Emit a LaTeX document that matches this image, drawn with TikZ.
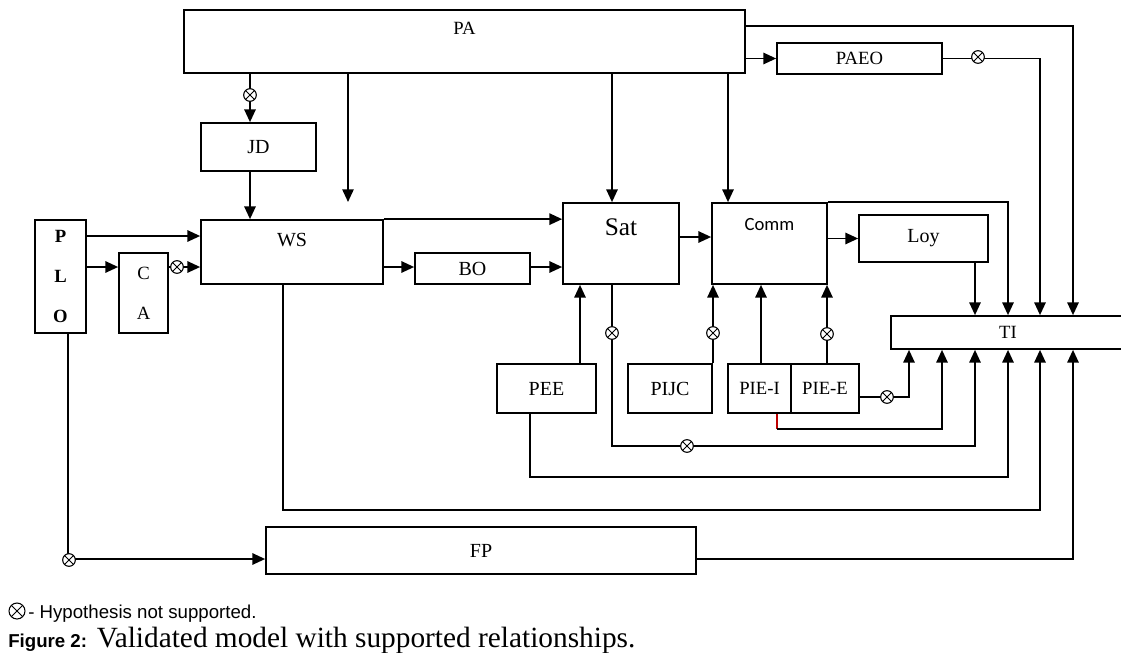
\documentclass[tikz,border=0pt]{standalone}
\usepackage{fontspec}
\setmainfont{Liberation Serif}
\setsansfont{Liberation Sans}
\newfontfamily\calibri{Carlito}
\usetikzlibrary{arrows.meta,calc}

\begin{document}
\begin{tikzpicture}[x=0.75pt, y=-0.75pt,
  box/.style={draw, rectangle, line width=1.3pt, inner sep=0pt, font=\fontsize{15}{17}\selectfont},
  lbl/.style={anchor=center, font=\fontsize{15}{17}\selectfont},
  arr/.style={-{Triangle[length=9.5pt,width=8.5pt]}, line width=1.2pt},
  wire/.style={line width=1.2pt},
  nsup/.style={circle, draw, fill=white, inner sep=0pt, minimum size=9.5pt, line width=0.8pt,
    path picture={\draw[line width=0.7pt] (path picture bounding box.north west) -- (path picture bounding box.south east)
      (path picture bounding box.north east) -- (path picture bounding box.south west);}}]
\useasboundingbox (0,0) rectangle (1121,653);

% boxes
\node[box, minimum width=420.75pt, minimum height=47.25pt, label={[lbl, yshift=-14.25pt, font=\fontsize{14}{16}\selectfont]north:PA}] (pa) at (464.5,41.5) {};
\node[box, minimum width=123.75pt, minimum height=23.25pt, font=\fontsize{14}{16}\selectfont] (paeo) at (859.5,58.5) {PAEO};
\node[box, minimum width=86.25pt, minimum height=36pt] (jd) at (258.5,147) {JD};
\node[box, minimum width=136.5pt, minimum height=48pt, label={[lbl, yshift=-15.75pt]north:WS}] (ws) at (292,252) {};
\node[box, minimum width=38.25pt, minimum height=84.75pt, align=center, font=\bfseries\fontsize{14}{30}\selectfont] (plo) at (60.5,276.5) {P\\L\\O};
\node[box, minimum width=36.75pt, minimum height=60pt, align=center, font=\fontsize{14}{30}\selectfont] (ca) at (143.5,293) {C\\A};
\node[box, minimum width=86.25pt, minimum height=23.25pt] (bo) at (472.5,268.5) {BO};
\node[box, minimum width=87pt, minimum height=60.75pt, label={[lbl, yshift=-18.75pt, font=\fontsize{19}{21}\selectfont]north:Sat}] (sat) at (621,243.5) {};
\node[box, minimum width=86.25pt, minimum height=60.75pt, label={[lbl, yshift=-16.5pt, font=\calibri\fontsize{14}{16}\selectfont]north:Comm}] (comm) at (769.5,243.5) {};
\node[box, minimum width=96.75pt, minimum height=35.25pt] (loy) at (923.5,238.5) {Loy};
\node[box, minimum width=175.5pt, minimum height=24.75pt, font=\fontsize{14}{16}\selectfont] (ti) at (1008,332.5) {TI};
\node[box, minimum width=74.25pt, minimum height=36.75pt] (pee) at (546.5,388.5) {PEE};
\node[box, minimum width=63pt, minimum height=36.75pt] (pijc) at (670,388.5) {PIJC};
\node[box, minimum width=47.25pt, minimum height=36.75pt, font=\fontsize{14}{16}\selectfont] (piei) at (759.5,388.5) {PIE-I};
\node[box, minimum width=51pt, minimum height=36.75pt, font=\fontsize{14}{16}\selectfont] (piee) at (825,388.5) {PIE-E};
\node[box, minimum width=322.5pt, minimum height=35.25pt] (fp) at (481,550.5) {FP};

% lanes
\coordinate (xjd) at (250,0);
\coordinate (xsat) at (612,0);
\coordinate (xcomm) at (728,0);
\coordinate (xpee) at (580,0);
\coordinate (xpee2) at (530,0);
\coordinate (xwsb) at (283,0);
\coordinate (xplo) at (68,0);
\coordinate (xred) at (777,0);
\coordinate (xpijc) at (713,0);
\coordinate (xpiei) at (761,0);
\coordinate (xpiee) at (827,0);
\foreach \n/\x in {1/909,2/942,3/975,4/1008,5/1040,6/1073}
  \coordinate (ti\n) at (\x,0);
\coordinate (ytop) at (0,26);
\coordinate (yp) at (0,236);
\coordinate (ymid) at (0,267);
\coordinate (ysc) at (0,237);
\coordinate (ye) at (0,397);
\coordinate (yi) at (0,429);
\coordinate (ys) at (0,446);
\coordinate (yp2) at (0,477);
\coordinate (yw) at (0,510);
\coordinate (yf) at (0,559);
\coordinate (wsin) at (348,202);

% from PA
\draw[arr] (pa.south -| xjd) -- (jd.north -| xjd);
\draw[arr] (jd.south -| xjd) -- (ws.north -| xjd);
\draw[arr] (pa.south -| wsin) -- (wsin);
\draw[arr] (pa.south -| xsat) -- (sat.north -| xsat);
\draw[arr] (pa.south -| xcomm) -- (comm.north -| xcomm);
\draw[arr] (pa.east |- paeo.west) -- (paeo.west);
\draw[arr] (pa.east |- ytop) -| (ti.north -| ti6);
\draw[arr] (paeo.east) -| (ti.north -| ti5);

% middle row
\draw[arr] (plo.east |- yp) -- (ws.west |- yp);
\draw[arr] (plo.east |- ymid) -- (ca.west |- ymid);
\draw[arr] (ca.east |- ymid) -- (ws.west |- ymid);
\draw[arr] (ws.east |- ymid) -- (bo.west |- ymid);
\draw[arr] (bo.east |- ymid) -- (sat.west |- ymid);
\draw[arr] (ws.north east) -- (sat.west |- ws.north east);
\draw[arr] (sat.east |- ysc) -- (comm.west |- ysc);
\draw[arr] (comm.east |- loy.west) -- (loy.west);
\draw[arr] (comm.north east) -| (ti.north -| ti4);
\draw[arr] (loy.south -| ti3) -- (ti.north -| ti3);

% bottom row
\draw[arr] (pee.north -| xpee) -- (sat.south -| xpee);
\draw[arr] (pijc.north -| xpijc) -- (comm.south -| xpijc);
\draw[arr] (piei.north -| xpiei) -- (comm.south -| xpiei);
\draw[arr] (piee.north -| xpiee) -- (comm.south -| xpiee);

% into TI from below
\draw[arr] (piee.east |- ye) -| (ti.south -| ti1);
\draw[wire, red!75!black] (piei.south -| xred) -- (xred |- yi);
\draw[arr] (xred |- yi) -| (ti.south -| ti2);
\draw[arr] (sat.south -| xsat) -- (xsat |- ys) -| (ti.south -| ti3);
\draw[arr] (pee.south -| xpee2) -- (xpee2 |- yp2) -| (ti.south -| ti4);
\draw[arr] (ws.south -| xwsb) -- (xwsb |- yw) -| (ti.south -| ti5);
\draw[arr] (fp.east |- yf) -| (ti.south -| ti6);
\draw[arr] (plo.south -| xplo) |- (fp.west |- yf);

% not supported
\node[nsup] (h1) at (250,95) {};
\node[nsup] (h2) at (978,57) {};
\node[nsup] (h3) at (177,267) {};
\node[nsup] (h4) at (612,333) {};
\node[nsup] (h5) at (713,333) {};
\node[nsup] (h6) at (827,334) {};
\node[nsup] (h7) at (887,397) {};
\node[nsup] (h8) at (687,446) {};
\node[nsup] (h9) at (69,560) {};

% key and caption
\node[nsup, minimum size=12pt] (key) at (17,611) {};
\node[anchor=base west, inner sep=0pt, font=\sffamily\fontsize{14}{16}\selectfont] (keytext) at (28,618) {- Hypothesis not supported.};
\node[anchor=base west, inner sep=0pt, font=\fontsize{22}{24}\selectfont] (caption) at (8,647) {{\sffamily\bfseries\fontsize{14}{16}\selectfont Figure 2:} Validated model with supported relationships.};
\end{tikzpicture}
\end{document}
